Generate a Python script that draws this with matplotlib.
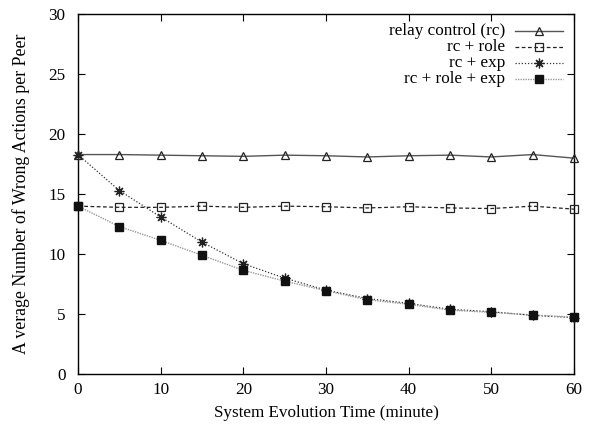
import matplotlib
matplotlib.use("Agg")
import matplotlib.pyplot as plt

plt.rcParams['font.family'] = ['Liberation Serif', 'DejaVu Serif']
plt.rcParams['font.size'] = 12.3

t = [0, 5, 10, 15, 20, 25, 30, 35, 40, 45, 50, 55, 60]
relay = [18.3, 18.3, 18.25, 18.2, 18.15, 18.25, 18.2, 18.1, 18.2, 18.25, 18.1, 18.3, 18.0]
rc_role = [14.0, 13.9, 13.9, 14.0, 13.9, 14.0, 13.95, 13.85, 13.95, 13.85, 13.8, 14.0, 13.75]
rc_exp = [18.3, 15.3, 13.1, 11.0, 9.2, 8.0, 7.0, 6.3, 5.9, 5.4, 5.2, 4.9, 4.7]
rc_role_exp = [14.0, 12.3, 11.15, 9.9, 8.65, 7.75, 6.95, 6.2, 5.82, 5.33, 5.15, 4.92, 4.75]
labels = ['relay control (rc)', 'rc + role', 'rc + exp', 'rc + role + exp']

fig = plt.figure(figsize=(5.94, 4.30), dpi=100)
ax = fig.add_axes([0.1313, 0.130, 0.835, 0.837])

styles = [
    dict(color='#555555', ls='-', lw=1.0, marker='^', ms=5.5, mfc='none', mec='#222222', mew=0.9),
    dict(color='#222222', ls=(0, (3, 2)), lw=0.9, marker='s', ms=6, mfc='none', mec='#222222', mew=0.9),
    dict(color='#333333', ls=(0, (1, 1.5)), lw=0.9, marker=(8, 2, 0), ms=7, mec='#222222', mew=0.9),
    dict(color='#999999', ls=(0, (1, 0.8)), lw=1.0, marker='s', ms=6, mfc='#111111', mec='#111111'),
]
series = [relay, rc_role, rc_exp, rc_role_exp]

for ys, st in zip(series, styles):
    ax.plot(t, ys, clip_on=False, zorder=3, **st)

# legend drawn by hand: right-aligned labels, samples to the right
rows = [0.953, 0.908, 0.864, 0.819]
for lab, st, yy in zip(labels, styles, rows):
    ax.text(0.861, yy, lab, transform=ax.transAxes, ha='right', va='center')
    ax.plot([0.881, 0.978], [yy, yy], transform=ax.transAxes,
            color=st['color'], ls=st['ls'], lw=st['lw'])
    ax.plot([0.93], [yy], transform=ax.transAxes, marker=st['marker'], ms=st['ms'],
            mfc=st.get('mfc', 'none'), mec=st['mec'], mew=st.get('mew', 1.0), ls='none')

ax.set_xlim(0, 60)
ax.set_ylim(0, 30)
ax.set_xticks(range(0, 61, 10))
ax.set_yticks(range(0, 31, 5))
ax.tick_params(direction='in', length=5, width=0.8, top=True, right=True)
ax.tick_params(axis='y', pad=9)
ax.tick_params(axis='x', pad=6)
for sp in ax.spines.values():
    sp.set_linewidth(1.0)
ax.set_xlabel('System Evolution Time (minute)', labelpad=5)
ax.set_ylabel('A verage Number of Wrong Actions per Peer', fontsize=12.8, labelpad=13)

fig.savefig('out.png', dpi=100)
